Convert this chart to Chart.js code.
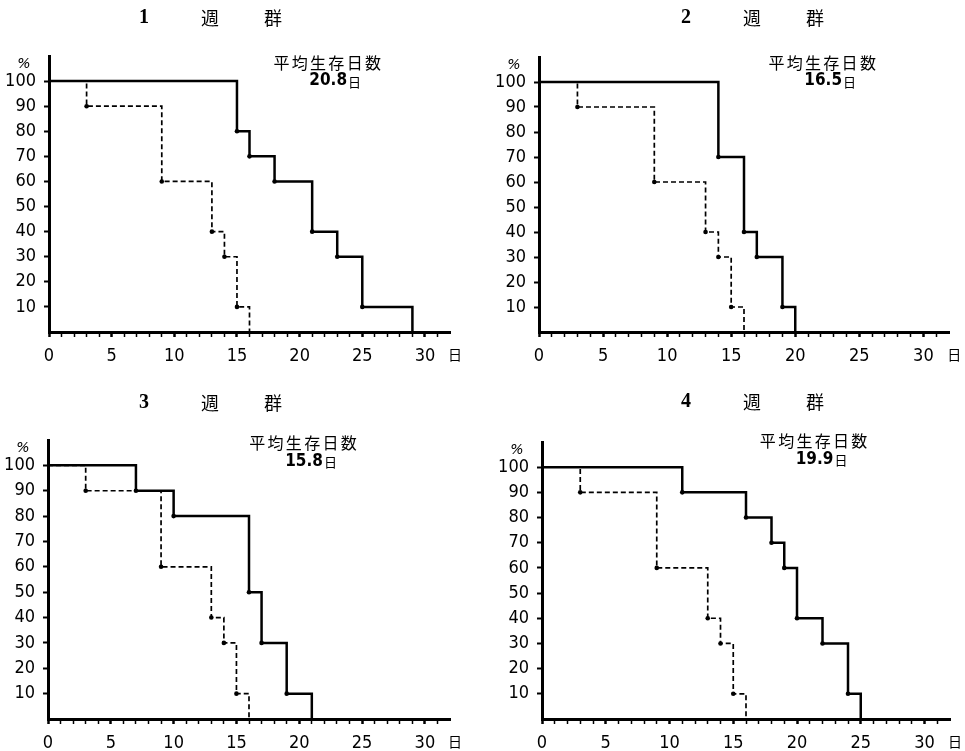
<!DOCTYPE html>
<html><head><meta charset="utf-8">
<script src="https://cdn.jsdelivr.net/npm/chart.js@4"></script>
<style>
body{margin:0;background:#fff;width:965px;height:751px;overflow:hidden;position:relative}
canvas{position:absolute}
</style>
</head><body>
<canvas id="c1" width="485" height="372" style="left:0;top:0"></canvas>
<canvas id="c2" width="475" height="372" style="left:490px;top:0"></canvas>
<canvas id="c3" width="485" height="371" style="left:0;top:380px"></canvas>
<canvas id="c4" width="475" height="371" style="left:490px;top:380px"></canvas>
<script>
// ---- data ----
const groupNumbers = ['1', '2', '3', '4'];
const meanSurvival = ['20.8', '16.5', '15.8', '19.9'];
const meanLabel = '平均生存日数';
const dayUnit = '日';
const xTickValues = [0, 5, 10, 15, 20, 25, 30];
const yTickValues = [10, 20, 30, 40, 50, 60, 70, 80, 90, 100];

const w1Days = [0, 15, 16, 18, 21, 23, 25, 29];
const w1Surv = [100, 80, 70, 60, 40, 30, 10, 0];
const w1CtrlDays = [0, 3, 9, 13, 14, 15, 16];
const w1CtrlSurv = [100, 90, 60, 40, 30, 10, 0];

const w2Days = [0, 14, 16, 17, 19, 20];
const w2Surv = [100, 70, 40, 30, 10, 0];
const w2CtrlDays = [0, 3, 9, 13, 14, 15, 16];
const w2CtrlSurv = [100, 90, 60, 40, 30, 10, 0];

const w3Days = [0, 7, 10, 16, 17, 19, 21];
const w3Surv = [100, 90, 80, 50, 30, 10, 0];
const w3CtrlDays = [0, 3, 9, 13, 14, 15, 16];
const w3CtrlSurv = [100, 90, 60, 40, 30, 10, 0];

const w4Days = [0, 11, 16, 18, 19, 20, 22, 24, 25];
const w4Surv = [100, 90, 80, 70, 60, 40, 30, 10, 0];
const w4CtrlDays = [0, 3, 9, 13, 14, 15, 16];
const w4CtrlSurv = [100, 90, 60, 40, 30, 10, 0];

const treated = [[w1Days, w1Surv], [w2Days, w2Surv], [w3Days, w3Surv], [w4Days, w4Surv]];
const controls = [[w1CtrlDays, w1CtrlSurv], [w2CtrlDays, w2CtrlSurv], [w3CtrlDays, w3CtrlSurv], [w4CtrlDays, w4CtrlSurv]];

// ---- layout (positions/sizes, kept apart from data) ----
const layouts = [
  {id: 'c1', yW: 49, top: 56, right: 35, xH: 40, titleX: 210, titleY: 18, mean: [22.2, 107.2]},
  {id: 'c2', yW: 49, top: 57, right: 16, xH: 40, titleX: 262, titleY: 18, mean: [22.1, 107.6]},
  {id: 'c3', yW: 48, top: 60, right: 35, xH: 32, titleX: 210, titleY: 23, mean: [20.3, 108.7]},
  {id: 'c4', yW: 52, top: 62, right: 15, xH: 32, titleX: 262, titleY: 22, mean: [21.3, 110.3]}
];

const NUM_FONT = '"DejaVu Sans Condensed", "DejaVu Sans", sans-serif';
const CJK_FONT = '"Noto Sans CJK JP", sans-serif';

const textPlugin = {
  id: 'panelText',
  afterDraw(chart, args, o) {
    const {ctx, chartArea} = chart;
    const xs = chart.scales.x, ys = chart.scales.y;
    ctx.save();
    ctx.fillStyle = '#000';
    ctx.textBaseline = 'middle';
    ctx.textAlign = 'center';
    // title
    ctx.font = 'bold 20px "Liberation Serif", serif';
    ctx.fillText(o.num, o.titleX - 66, o.titleY);
    ctx.font = '18px ' + CJK_FONT;
    ctx.fillText('週', o.titleX, o.titleY);
    ctx.fillText('群', o.titleX + 63, o.titleY);
    // % label
    ctx.font = 'italic 14px "DejaVu Sans", sans-serif';
    ctx.fillText('%', xs.getPixelForValue(0) - 25, ys.getPixelForValue(100) - 17);
    // day unit on x axis
    ctx.font = '14px ' + CJK_FONT;
    ctx.fillText(dayUnit, xs.getPixelForValue(32.4), chartArea.bottom + 23);
    // mean survival
    const cx = xs.getPixelForValue(o.mean[0]);
    const cy = ys.getPixelForValue(o.mean[1]);
    ctx.font = '16px ' + CJK_FONT;
    const pitch = 18.3;
    for (let i = 0; i < meanLabel.length; i++) {
      ctx.fillText(meanLabel[i], cx + (i - (meanLabel.length - 1) / 2) * pitch, cy);
    }
    const cy2 = cy + 18;
    ctx.font = 'bold 17px ' + NUM_FONT;
    const w1 = ctx.measureText(o.meanVal).width;
    ctx.font = '13px ' + CJK_FONT;
    const w2 = ctx.measureText(dayUnit).width;
    const start = cx + 8 - (w1 + 1 + w2) / 2;
    ctx.textAlign = 'left';
    ctx.font = 'bold 17px ' + NUM_FONT;
    ctx.fillText(o.meanVal, start, cy2);
    ctx.font = '13px ' + CJK_FONT;
    ctx.fillText(dayUnit, start + w1 + 1, cy2 + 1);
    ctx.restore();
  }
};

function pts(days, vals) {
  return days.map((d, i) => ({x: d, y: vals[i]}));
}
function radii(n) {
  return Array.from({length: n}, (_, i) => (i === 0 || i === n - 1) ? 0 : 2.3);
}

layouts.forEach((L, k) => {
  const [td, tv] = treated[k];
  const [cd, cv] = controls[k];
  new Chart(document.getElementById(L.id), {
    type: 'line',
    data: {
      datasets: [
        {
          data: pts(td, tv), stepped: true, borderColor: '#000', borderWidth: 2.5,
          pointRadius: radii(td.length), pointBackgroundColor: '#000', pointBorderWidth: 0,
          fill: false, clip: 4
        },
        {
          data: pts(cd, cv), stepped: true, borderColor: '#000', borderWidth: 1.7,
          borderDash: [5, 3], pointRadius: radii(cd.length), pointBackgroundColor: '#000',
          pointBorderWidth: 0, fill: false, clip: 4
        }
      ]
    },
    options: {
      responsive: false,
      animation: false,
      devicePixelRatio: 1,
      layout: {padding: {top: L.top, right: L.right, left: 0, bottom: 0}},
      plugins: {
        legend: {display: false},
        title: {display: false},
        tooltip: {enabled: false},
        panelText: {num: groupNumbers[k], meanVal: meanSurvival[k], titleX: L.titleX, titleY: L.titleY, mean: L.mean}
      },
      scales: {
        x: {
          type: 'linear', min: 0, max: 32,
          afterFit: s => { s.height = L.xH; },
          afterBuildTicks: s => {
            const t = [];
            for (let d = 0; d <= 31; d++) t.push({value: d});
            s.ticks = t;
          },
          border: {display: true, color: '#000', width: 3},
          grid: {
            drawOnChartArea: false, drawTicks: true, tickLength: 5, tickColor: '#000',
            tickWidth: c => (xTickValues.includes(c.tick && c.tick.value) ? 2.5 : 1.5)
          },
          ticks: {
            autoSkip: false, maxRotation: 0, padding: 9, color: '#000',
            font: {family: NUM_FONT, size: 18},
            callback: v => (xTickValues.includes(v) ? String(v) : '')
          }
        },
        y: {
          type: 'linear', min: 0, max: 110,
          afterFit: s => { s.width = L.yW; },
          afterBuildTicks: s => { s.ticks = yTickValues.map(v => ({value: v})); },
          border: {display: true, color: '#000', width: 3},
          grid: {drawOnChartArea: false, drawTicks: true, tickLength: 5, tickColor: '#000', tickWidth: 2},
          ticks: {
            autoSkip: false, padding: 8, color: '#000',
            font: {family: NUM_FONT, size: 18},
            callback: v => String(v)
          }
        }
      }
    },
    plugins: [textPlugin]
  });
});
</script>
</body></html>
